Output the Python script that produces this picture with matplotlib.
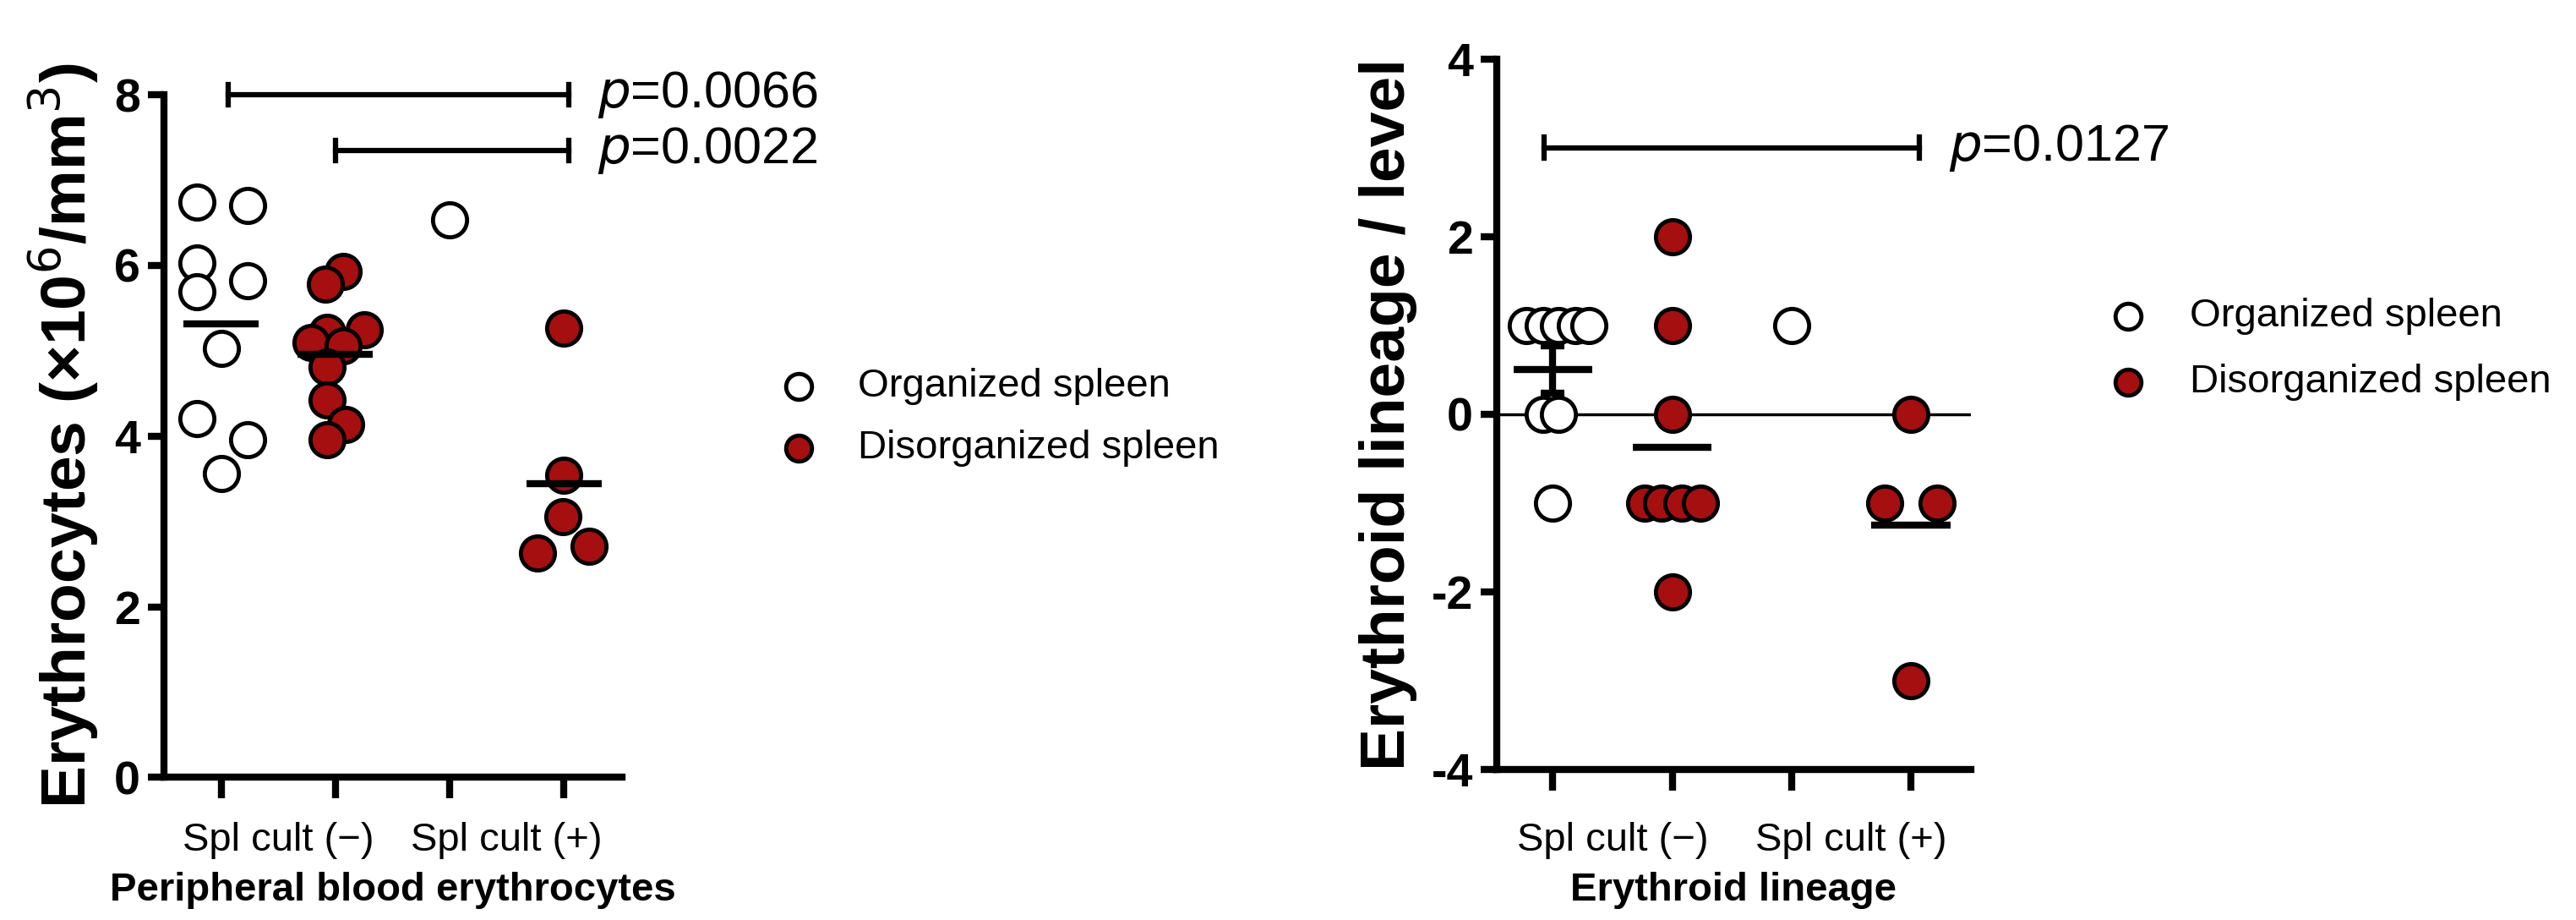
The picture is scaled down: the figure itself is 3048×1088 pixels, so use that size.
import matplotlib.pyplot as plt
import matplotlib.transforms as mtransforms

plt.rcParams['font.family'] = ['Liberation Sans', 'DejaVu Sans']

DARK_RED = '#a50f0f'

# ---- left panel: peripheral blood erythrocytes ----
pb_org_neg = [6.74, 6.70, 6.03, 5.82, 5.69, 5.03, 4.21, 3.96, 3.56]
pb_org_neg_dx = [-0.21, 0.23, -0.21, 0.23, -0.21, 0.0, -0.21, 0.23, 0.0]
pb_dis_neg = [5.93, 5.78, 5.25, 5.22, 5.10, 5.06, 4.81, 4.42, 4.14, 3.96]
pb_dis_neg_dx = [0.07, -0.09, 0.25, -0.07, -0.21, 0.07, -0.07, -0.07, 0.09, -0.07]
pb_org_pos = [6.53]
pb_org_pos_dx = [0.0]
pb_dis_pos = [5.27, 3.54, 3.06, 2.71, 2.63]
pb_dis_pos_dx = [0.0, 0.0, -0.01, 0.22, -0.23]
pb_means = [5.32, 4.96, None, 3.44]
pb_brackets = [(1.06, 4.04, 8.0, 'p', '=0.0066'), (2.0, 4.04, 7.35, 'p', '=0.0022')]

# ---- right panel: erythroid lineage level ----
el_org_neg = [1, 1, 1, 1, 1, 0, 0, -1]
el_org_neg_dx = [-0.22, -0.08, 0.05, 0.19, 0.3, -0.08, 0.05, 0.0]
el_dis_neg = [2, 1, 0, -1, -1, -1, -1, -2]
el_dis_neg_dx = [0.0, 0.0, 0.0, -0.23, -0.09, 0.08, 0.24, 0.0]
el_org_pos = [1]
el_org_pos_dx = [0.0]
el_dis_pos = [0, -1, -1, -3]
el_dis_pos_dx = [0.0, -0.22, 0.22, 0.0]
el_means = [0.5, -0.375, None, -1.25]
el_sem = 0.27
el_brackets = [(0.93, 4.07, 3.0, 'p', '=0.0127')]

cat_labels = ['Spl cult (\u2212)', 'Spl cult (+)']
legend_labels = ['Organized spleen', 'Disorganized spleen']

fig = plt.figure(figsize=(30.48, 10.88), dpi=100)
ax1 = fig.add_axes([0.0636, 0.155, 0.178, 0.742])
ax2 = fig.add_axes([0.581, 0.164, 0.184, 0.772])

MS = 29
MEW = 3.5


def scatter_group(ax, x0, vals, dxs, filled):
    xs = [x0 + d for d in dxs]
    ax.plot(xs, vals, 'o', ms=MS, mew=MEW, mec='black',
            mfc=DARK_RED if filled else 'white', clip_on=False, zorder=3)


def style_axes(ax, xlim, ylim, yticks, ylabel, xlabel):
    ax.set_xlim(*xlim)
    ax.set_ylim(*ylim)
    for s in ['top', 'right']:
        ax.spines[s].set_visible(False)
    for s in ['left', 'bottom']:
        ax.spines[s].set_linewidth(6)
    ax.set_yticks(yticks)
    ax.set_yticklabels([str(t) for t in yticks], fontsize=40, fontweight='bold')
    ax.set_xticks([1, 2, 3, 4])
    ax.set_xticklabels([])
    ax.tick_params(axis='y', length=14, width=6, pad=6)
    ax.tick_params(axis='x', length=18, width=6, direction='out')
    ax.set_ylabel(ylabel, fontsize=54, fontweight='bold', labelpad=12)
    pos = ax.get_position()
    trans = mtransforms.blended_transform_factory(ax.transData, fig.transFigure)
    for xc, lab in zip([1.5, 3.5], cat_labels):
        ax.text(xc, 0.086, lab, transform=trans, ha='center', va='center', fontsize=34)
    fig.text(pos.x0 + pos.width / 2, 0.032, xlabel, ha='center', va='center',
             fontsize=34, fontweight='bold')


def draw_means(ax, means):
    for i, m in enumerate(means):
        if m is None:
            continue
        ax.plot([i + 1 - 0.33, i + 1 + 0.33], [m, m], color='black', lw=6,
                solid_capstyle='butt', zorder=4)


def draw_brackets(ax, brackets):
    span = ax.get_ylim()[1] - ax.get_ylim()[0]
    for x0, x1, y, pit, rest in brackets:
        ax.plot([x0, x1], [y, y], color='black', lw=4.5, clip_on=False)
        for xx in (x0, x1):
            ax.plot([xx, xx], [y - 0.015 * span, y + 0.015 * span],
                    color='black', lw=4.5, clip_on=False)
        ax.text(x1 + 0.25, y, r'$\it{' + pit + '}$' + rest, fontsize=44,
                ha='left', va='center')


# left panel
scatter_group(ax1, 1, pb_org_neg, pb_org_neg_dx, False)
scatter_group(ax1, 2, pb_dis_neg, pb_dis_neg_dx, True)
scatter_group(ax1, 3, pb_org_pos, pb_org_pos_dx, False)
scatter_group(ax1, 4, pb_dis_pos, pb_dis_pos_dx, True)
draw_means(ax1, pb_means)
style_axes(ax1, (0.5, 4.51), (0, 8), [0, 2, 4, 6, 8],
           'Erythrocytes (\u00d710$^{6}$/mm$^{3}$)', 'Peripheral blood erythrocytes')
draw_brackets(ax1, pb_brackets)

# right panel
ax2.axhline(0, color='black', lw=2.5, zorder=1)
scatter_group(ax2, 1, el_org_neg, el_org_neg_dx, False)
scatter_group(ax2, 2, el_dis_neg, el_dis_neg_dx, True)
scatter_group(ax2, 3, el_org_pos, el_org_pos_dx, False)
scatter_group(ax2, 4, el_dis_pos, el_dis_pos_dx, True)
draw_means(ax2, el_means)
ax2.errorbar([1], [el_means[0]], yerr=[el_sem], color='black', lw=6,
             capsize=10, capthick=6, zorder=5)
style_axes(ax2, (0.53, 4.5), (-4, 4), [-4, -2, 0, 2, 4],
           'Erythroid lineage / level', 'Erythroid lineage')
draw_brackets(ax2, el_brackets)

# legends drawn as figure-level markers and text
for (mx, tx, ys) in [(0.31, 0.333, (0.58, 0.513)), (0.826, 0.85, (0.656, 0.585))]:
    for y, lab, filled in zip(ys, legend_labels, (False, True)):
        fig.lines.append(plt.Line2D([mx], [y], marker='o', ms=22, mew=3.5, mec='black',
                                    mfc=DARK_RED if filled else 'white',
                                    transform=fig.transFigure))
        fig.text(tx, y, lab, fontsize=34, va='center', ha='left')

fig.savefig('out.png', dpi=100)
